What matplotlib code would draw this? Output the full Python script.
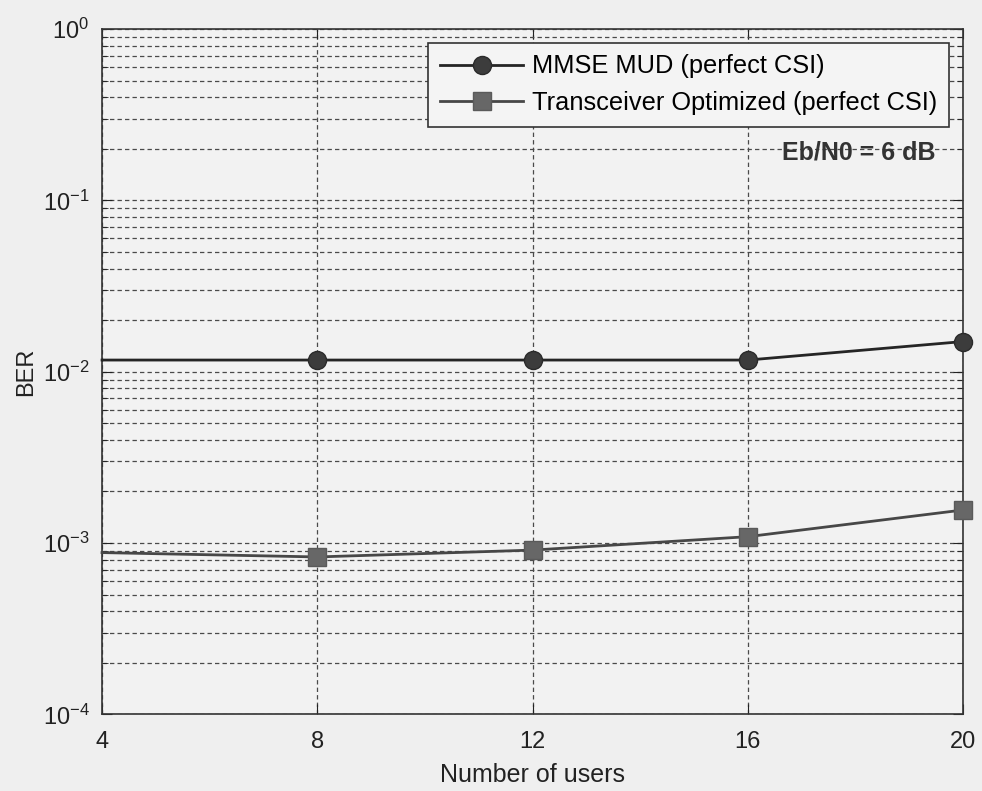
import numpy as np
import matplotlib.pyplot as plt
from matplotlib.ticker import LogLocator, NullFormatter, FuncFormatter

# BER vs number of users, Eb/N0 = 6 dB
users = [4, 8, 12, 16, 20]
ber_mmse = [0.0117, 0.0117, 0.0117, 0.0117, 0.0150]
ber_trx = [0.00088, 0.00083, 0.00091, 0.00109, 0.00156]

plt.rcParams['font.family'] = ['Liberation Sans', 'DejaVu Sans']
plt.rcParams['mathtext.fontset'] = 'custom'
plt.rcParams['mathtext.rm'] = 'Liberation Sans'

fig = plt.figure(figsize=(9.82, 7.91), dpi=100, facecolor='#efefef')
ax = fig.add_axes([0.1039, 0.0968, 0.8768, 0.8665])
ax.set_facecolor('#f2f2f2')

ax.semilogy(users, ber_mmse, color='#252525', lw=2.0, marker='o', ms=13,
            mfc='#3c3c3c', mec='#2a2a2a', markevery=[1, 2, 3, 4],
            label='MMSE MUD (perfect CSI)', zorder=3, clip_on=False)
ax.semilogy(users, ber_trx, color='#474747', lw=2.0, marker='s', ms=12.5,
            mfc='#676767', mec='#5a5a5a', markevery=[1, 2, 3, 4],
            label='Transceiver Optimized (perfect CSI)', zorder=3, clip_on=False)

ax.set_xlim(4, 20)
ax.set_ylim(1e-4, 1)
ax.set_xticks(users)
ax.yaxis.set_major_locator(LogLocator(base=10, numticks=10))
ax.yaxis.set_major_formatter(FuncFormatter(
    lambda v, p: r'$\mathregular{10^{%d}}$' % int(round(np.log10(v)))))
ax.yaxis.set_minor_locator(LogLocator(base=10, subs=np.arange(2, 10), numticks=50))
ax.yaxis.set_minor_formatter(NullFormatter())

ax.grid(True, which='major', axis='both', ls=(0, (3.5, 2.5)), color='#4a4a4a', lw=0.9)
ax.grid(True, which='minor', axis='y', ls=(0, (3.5, 2.5)), color='#4a4a4a', lw=0.9)

ax.tick_params(which='both', direction='in', top=True, right=True, labelsize=17,
               colors='#222222')
ax.tick_params(which='major', length=7)
ax.tick_params(which='minor', length=4)
ax.tick_params(axis='x', pad=12)
ax.tick_params(axis='y', pad=9)
for s in ax.spines.values():
    s.set_color('#333333')
    s.set_linewidth(1.2)

ax.set_xlabel('Number of users', fontsize=18, color='#222222', labelpad=7)
ax.set_ylabel('BER', fontsize=17, color='#222222', labelpad=4)

leg = ax.legend(loc='upper right', fontsize=18.3, frameon=True, fancybox=False,
                edgecolor='#333333', facecolor='#f4f4f4', framealpha=1,
                handlelength=3.3, handletextpad=0.35, borderpad=0.45,
                labelspacing=0.5, borderaxespad=0.55)
leg.get_frame().set_linewidth(1.2)

ax.text(0.968, 0.82, 'Eb/N0 = 6 dB', transform=ax.transAxes, ha='right',
        va='center', fontsize=18, fontweight='bold', color='#333333')

plt.savefig('out.png', dpi=100, facecolor=fig.get_facecolor())
